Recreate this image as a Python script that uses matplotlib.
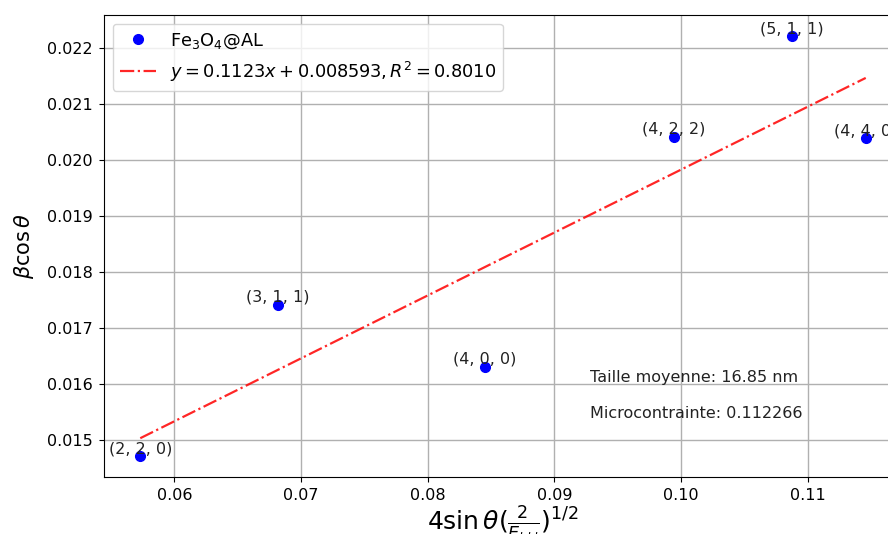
import numpy as np
import matplotlib.pyplot as plt

# points (x = 4 sin(theta) (2/E_hkl)^1/2, y = beta cos(theta))
hkl_labels = ['(2, 2, 0)', '(3, 1, 1)', '(4, 0, 0)', '(4, 2, 2)', '(5, 1, 1)', '(4, 4, 0)']
x_vals = [0.0573, 0.06818, 0.08451, 0.09945, 0.10873, 0.11459]
y_vals = [0.01471, 0.01741, 0.01630, 0.02041, 0.02221, 0.02038]

# linear fit reported
slope = 0.1123
intercept = 0.008593
r2 = 0.8010
taille = 16.85
micro = 0.112266

fig = plt.figure(figsize=(8.88, 5.34), dpi=100)
ax = fig.add_axes([104 / 888, 57 / 534, 798 / 888, 462 / 534])

x = np.array(x_vals)
y = np.array(y_vals)
ax.plot(x, y, 'o', color='blue', markersize=7, label=r'Fe$_3$O$_4$@AL', zorder=3)
xf = np.linspace(x.min(), x.max(), 100)
ax.plot(xf, slope * xf + intercept, '-.', color='red', alpha=0.85, linewidth=1.6,
        label=r'$y = %.4fx + %.6f, R^2 = %.4f$' % (slope, intercept, r2))

for xi, yi, lab in zip(x_vals, y_vals, hkl_labels):
    ax.text(xi, yi, lab, ha='center', va='bottom', fontsize=11.5, color='#222222')

ax.text(0.609, 0.205, 'Taille moyenne: %.2f nm' % taille, transform=ax.transAxes, fontsize=11.5, color='#222222')
ax.text(0.609, 0.127, 'Microcontrainte: %.6f' % micro, transform=ax.transAxes, fontsize=11.5, color='#222222')

ax.set_xlabel(r'$4\sin\theta(\frac{2}{E_{hkl}})^{1/2}$', fontsize=18, labelpad=1)
ax.set_ylabel(r'$\beta\cos\theta$', fontsize=15, labelpad=8)
ax.tick_params(labelsize=11.5, pad=4.5)
ax.grid(True, color='#b0b0b0', linewidth=1)
ax.legend(loc='upper left', fontsize=12.8)

fig.savefig('out.png', dpi=100)
